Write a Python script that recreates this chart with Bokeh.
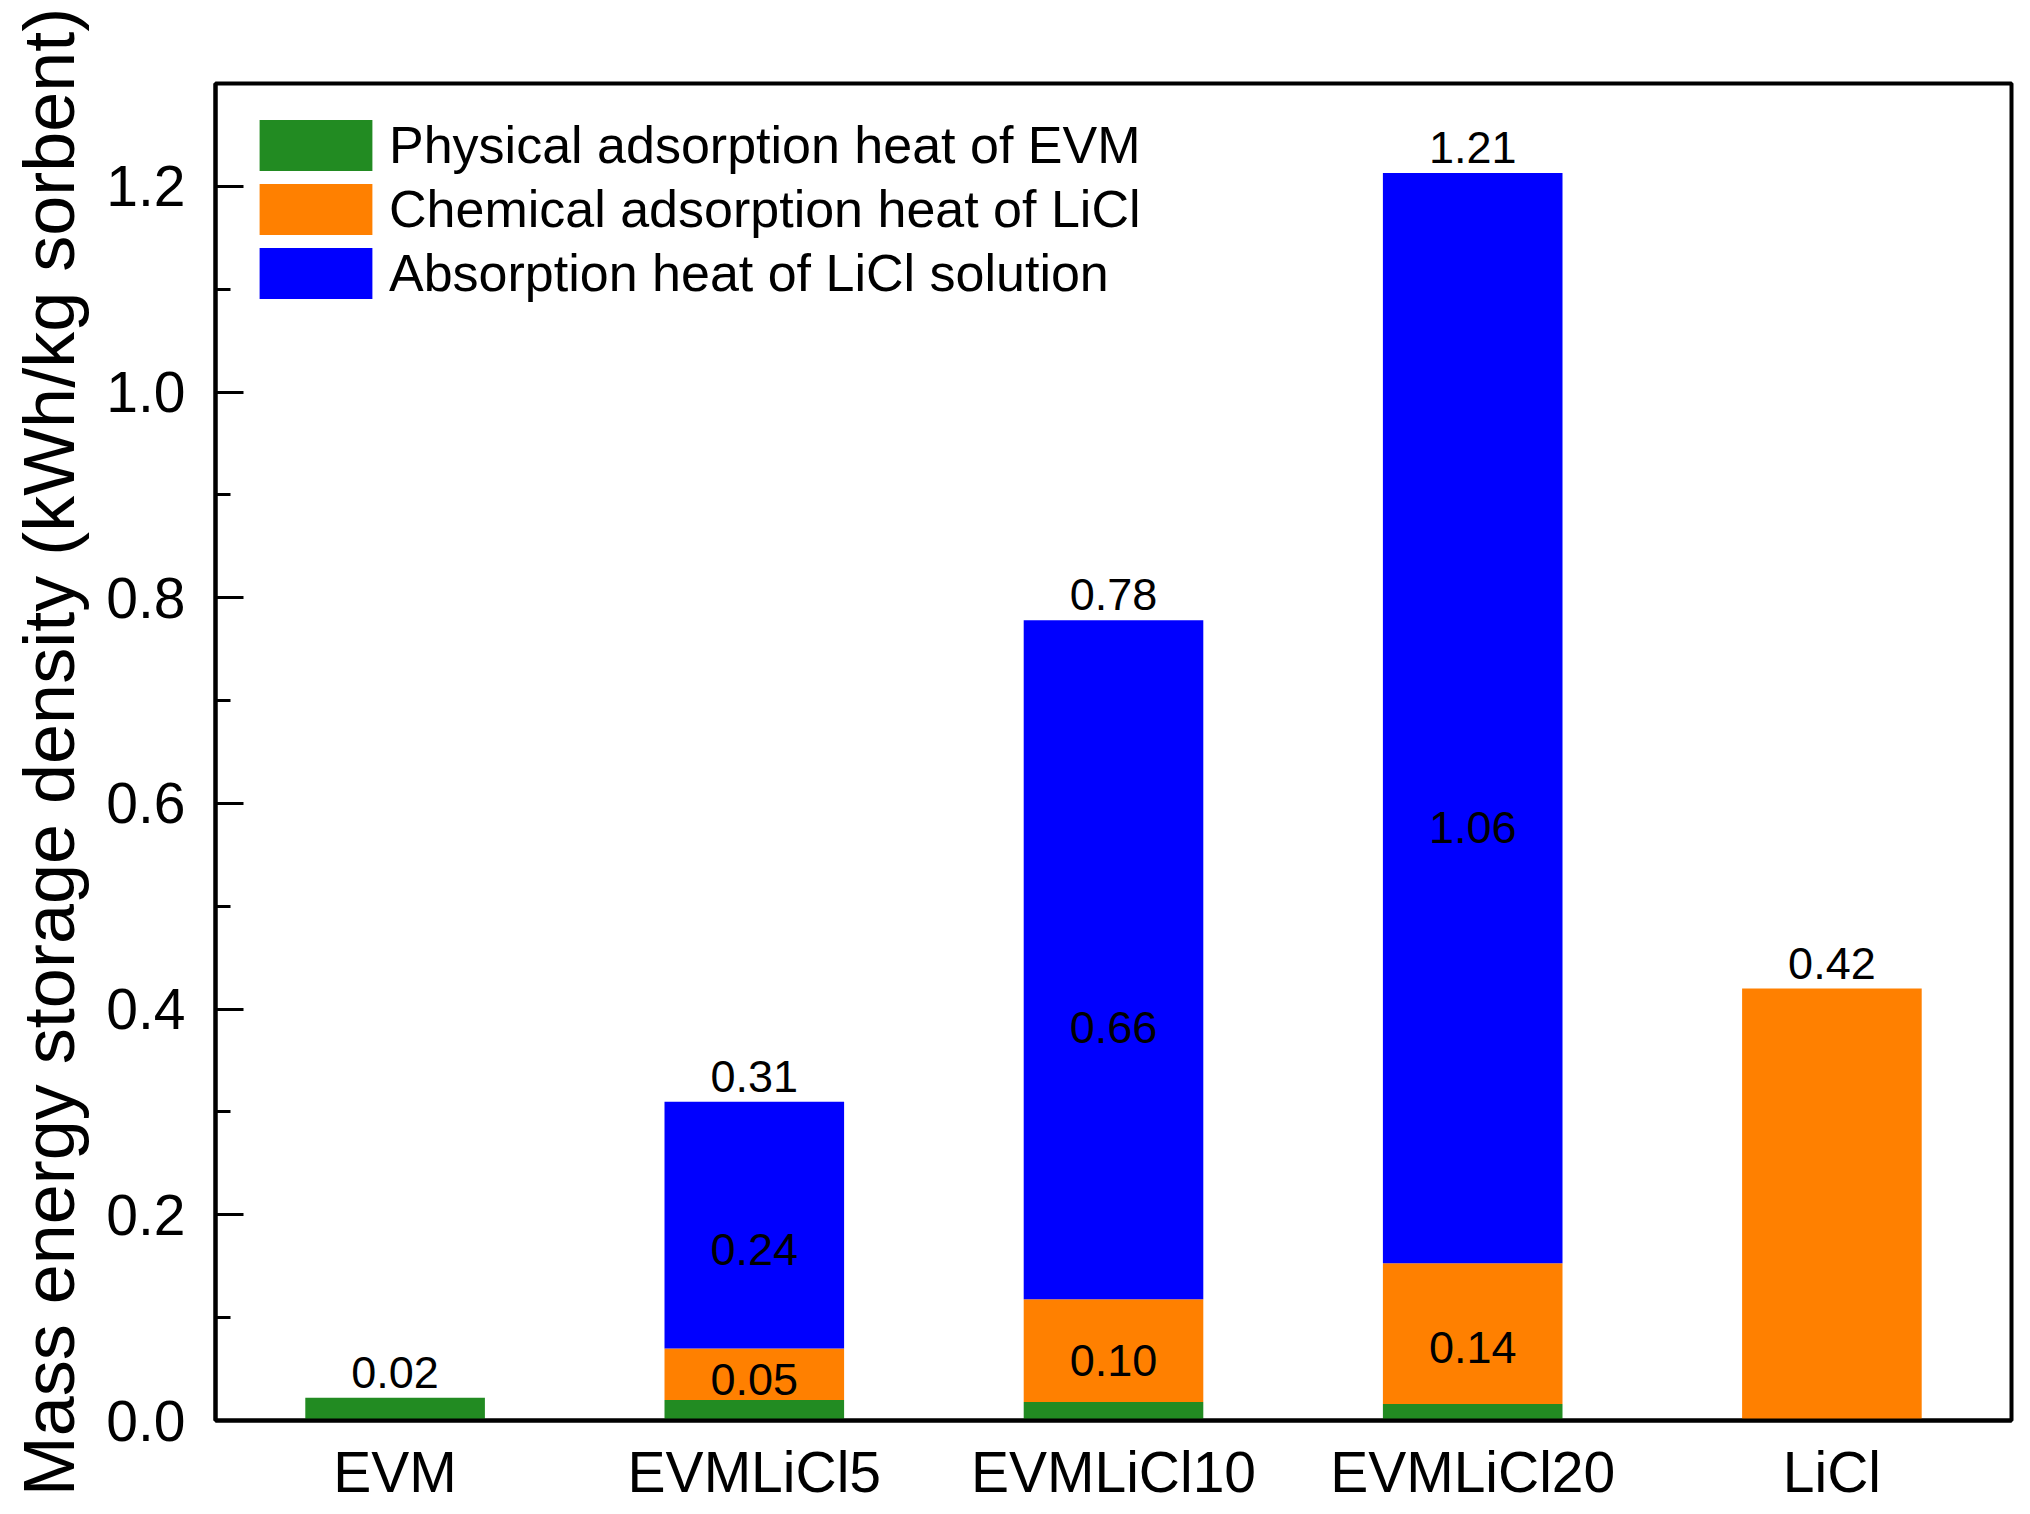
from bokeh.plotting import figure
from bokeh.models import ColumnDataSource, FactorRange, FixedTicker, PrintfTickFormatter, Range1d
from bokeh.core.properties import value
from bokeh.embed import file_html
from bokeh.resources import INLINE

FONT = "Liberation Sans"

samples = ["EVM", "EVMLiCl5", "EVMLiCl10", "EVMLiCl20", "LiCl"]
physical_evm = [0.022, 0.020, 0.018, 0.016, 0.0]
chemical_licl = [0.0, 0.050, 0.100, 0.137, 0.420]
solution_licl = [0.0, 0.240, 0.660, 1.060, 0.0]

total_labels = ["0.02", "0.31", "0.78", "1.21", "0.42"]
chemical_labels = ["", "0.05", "0.10", "0.14", ""]
solution_labels = ["", "0.24", "0.66", "1.06", ""]

series_keys = ["physical", "chemical", "solution"]
series_names = ["Physical adsorption heat of EVM",
                "Chemical adsorption heat of LiCl",
                "Absorption heat of LiCl solution"]
series_colors = ["#228B22", "#FF8000", "#0000FF"]

y_ticks = [0.0, 0.2, 0.4, 0.6, 0.8, 1.0, 1.2]
y_minor = [0.1, 0.3, 0.5, 0.7, 0.9, 1.1]

source = ColumnDataSource(dict(
    sample=samples,
    physical=physical_evm,
    chemical=chemical_licl,
    solution=solution_licl,
))

p = figure(x_range=FactorRange(*samples), y_range=Range1d(0, 1.3),
           width=2014, height=1506, output_backend="svg",
           toolbar_location=None, tools="",
           min_border_left=215, min_border_right=3,
           min_border_top=83, min_border_bottom=84)

p.vbar_stack(series_keys, x="sample", width=0.5, source=source,
             color=series_colors, line_color=None,
             legend_label=series_names)

# totals on top of each bar
tops = [a + b + c for a, b, c in zip(physical_evm, chemical_licl, solution_licl)]
p.text(x=samples, y=tops, text=total_labels, text_align="center",
       text_baseline="bottom", y_offset=-10, text_font=value(FONT),
       text_font_size="45px", text_color="black")

# segment labels, sitting a bit below the middle of each segment
chem_y = [g + 0.4 * c for g, c in zip(physical_evm, chemical_licl)]
sol_y = [g + c + 0.4 * s for g, c, s in zip(physical_evm, chemical_licl, solution_licl)]
p.text(x=samples, y=chem_y, text=chemical_labels, text_align="center",
       text_baseline="middle", text_font=value(FONT),
       text_font_size="45px", text_color="black")
p.text(x=samples, y=sol_y, text=solution_labels, text_align="center",
       text_baseline="middle", text_font=value(FONT),
       text_font_size="45px", text_color="black")

p.xgrid.visible = False
p.ygrid.visible = False
p.outline_line_color = "black"
p.outline_line_width = 4
p.outline_line_alpha = 1.0

p.yaxis.axis_label = "Mass energy storage density (kWh/kg sorbent)"
p.yaxis.ticker = FixedTicker(ticks=y_ticks, minor_ticks=y_minor)
p.yaxis.formatter = PrintfTickFormatter(format="%.1f")
p.yaxis.major_tick_in = 28
p.yaxis.major_tick_out = 0
p.yaxis.minor_tick_in = 15
p.yaxis.minor_tick_out = 0
p.yaxis.major_label_standoff = 30
p.yaxis.axis_label_standoff = 14

p.xaxis.major_tick_in = 0
p.xaxis.major_tick_out = 0
p.xaxis.minor_tick_in = 0
p.xaxis.minor_tick_out = 0
p.xaxis.major_label_standoff = 19

for ax in (p.xaxis, p.yaxis):
    ax.axis_line_width = 4
    ax.axis_line_color = "black"
    ax.major_tick_line_width = 3
    ax.minor_tick_line_width = 3
    ax.major_label_text_font = FONT
    ax.major_label_text_font_size = "57px"
    ax.major_label_text_color = "black"
    ax.axis_label_text_font = FONT
    ax.axis_label_text_font_size = "72px"
    ax.axis_label_text_font_style = "normal"
    ax.axis_label_text_color = "black"

p.legend.location = "top_left"
p.legend.glyph_width = 141
p.legend.glyph_height = 64
p.legend.label_height = 64
p.legend.spacing = 0
p.legend.label_standoff = 3
p.legend.label_text_font = FONT
p.legend.label_text_font_size = "52px"
p.legend.label_text_color = "black"
p.legend.border_line_alpha = 0
p.legend.background_fill_alpha = 0
p.legend.margin = 26
p.legend.padding = 4

open("out.html", "w").write(file_html(p, INLINE))
